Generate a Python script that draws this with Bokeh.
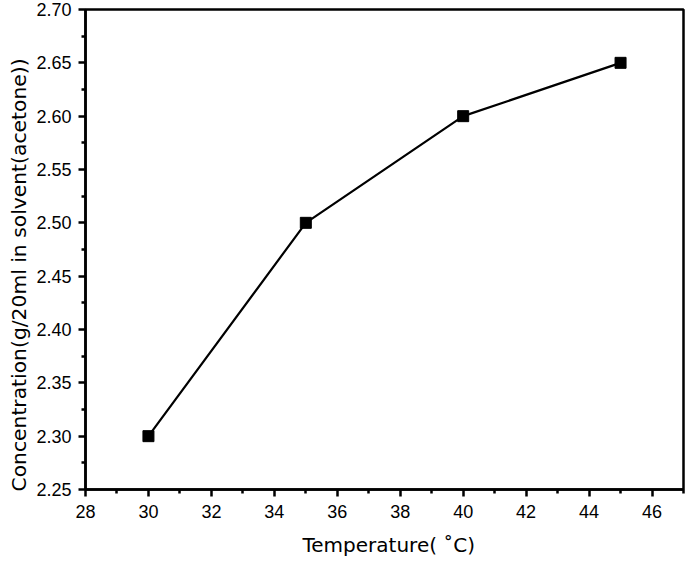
from bokeh.plotting import figure
from bokeh.models import FixedTicker, Range1d, NumeralTickFormatter, Title
from bokeh.embed import file_html
from bokeh.resources import INLINE

temperature = [30, 35, 40, 45]
concentration = [2.30, 2.50, 2.60, 2.65]
x_ticks = [28, 30, 32, 34, 36, 38, 40, 42, 44, 46]
x_minor = [29, 31, 33, 35, 37, 39, 41, 43, 45, 47]
y_ticks = [2.25, 2.30, 2.35, 2.40, 2.45, 2.50, 2.55, 2.60, 2.65, 2.70]
y_minor = [2.275, 2.325, 2.375, 2.425, 2.475, 2.525, 2.575, 2.625, 2.675]

FONT = "Liberation Sans"
LABEL_FONT = "DejaVu Sans"

p = figure(width=685, height=567, output_backend="svg", toolbar_location=None,
           x_range=Range1d(28, 47), y_range=Range1d(2.25, 2.70),
           min_border_left=85, min_border_top=9, min_border_right=2, min_border_bottom=76)

p.line(temperature, concentration, line_color="black", line_width=2.2)
p.scatter(temperature, concentration, marker="square", size=11, fill_color="black", line_color="black")

p.xgrid.visible = False
p.ygrid.visible = False
p.outline_line_color = "black"
p.outline_line_width = 2.5
p.outline_line_alpha = 1

p.xaxis.ticker = FixedTicker(ticks=x_ticks, minor_ticks=x_minor)
p.yaxis.ticker = FixedTicker(ticks=y_ticks, minor_ticks=y_minor)
p.yaxis.formatter = NumeralTickFormatter(format="0.00")

for ax in (p.xaxis[0], p.yaxis[0]):
    ax.axis_line_width = 2.5
    ax.axis_line_color = "black"
    ax.major_tick_line_width = 2.5
    ax.minor_tick_line_width = 2.5
    ax.major_tick_in = 0
    ax.major_tick_out = 7
    ax.minor_tick_in = 0
    ax.minor_tick_out = 4
    ax.major_label_text_font = FONT
    ax.major_label_text_font_size = "18px"
    ax.major_label_text_color = "black"

p.xaxis.major_label_standoff = 8
p.yaxis.major_label_standoff = 7

xlab = Title(text="Temperature( \u02daC)", align="left", offset=302 - 85,
             text_font=LABEL_FONT, text_font_size="20px",
             text_font_style="normal", text_color="black", standoff=21)
p.add_layout(xlab, "below")

ylab = Title(text="Concentration(g/20ml in solvent(acetone))", align="left",
             offset=-2, text_font=LABEL_FONT, text_font_size="20.3px",
             text_font_style="normal", text_color="black", standoff=6)
p.add_layout(ylab, "left")

open("out.html", "w").write(file_html(p, INLINE))
